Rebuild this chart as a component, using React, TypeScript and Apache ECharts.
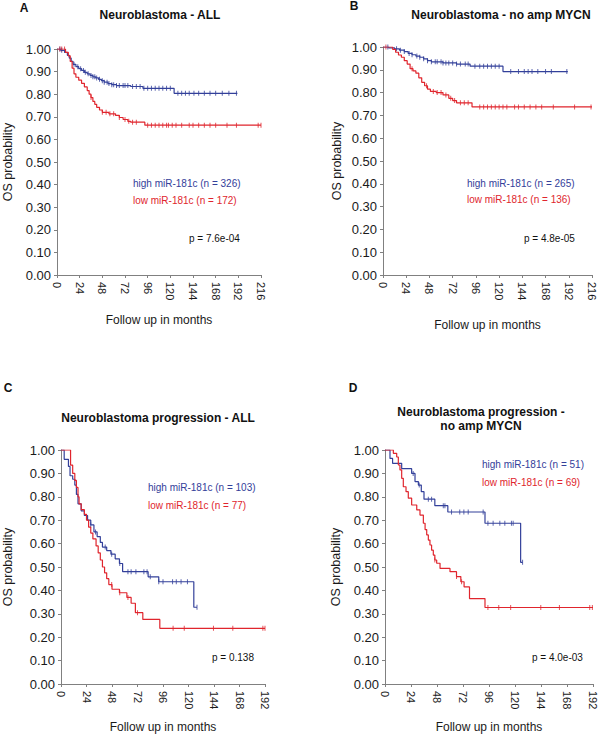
import React, { useEffect, useRef } from "react";
import * as echarts from "echarts";

// ---------- data ----------
const xTicksAB = [0, 24, 48, 72, 96, 120, 144, 168, 192, 216];
const xTicksCD = [0, 24, 48, 72, 96, 120, 144, 168, 192];

const panelTitles = ["Neuroblastoma - ALL", "Neuroblastoma - no amp MYCN", "Neuroblastoma progression - ALL", "Neuroblastoma progression -\nno amp MYCN"];
const panelLetters = ["A", "B", "C", "D"];
const highLabels = ["high miR-181c (n = 326)", "high miR-181c (n = 265)", "high miR-181c (n = 103)", "high miR-181c (n = 51)"];
const lowLabels = ["low miR-181c (n = 172)", "low miR-181c (n = 136)", "low miR-181c (n = 77)", "low miR-181c (n = 69)"];
const pValues = ["p = 7.6e-04", "p = 4.8e-05", "p = 0.138", "p = 4.0e-03"];

// Panel A
const aHighT = [0, 4, 8, 11, 13, 15, 17, 20, 23, 26, 29, 32, 35, 38, 41, 44, 47, 50, 54, 58, 63, 78, 91, 124, 191];
const aHighS = [1, 0.994, 0.985, 0.972, 0.96, 0.945, 0.932, 0.922, 0.913, 0.905, 0.897, 0.89, 0.883, 0.877, 0.872, 0.866, 0.86, 0.853, 0.847, 0.842, 0.838, 0.834, 0.826, 0.804, 0.804];
const aHighC = [3, 5, 18, 22, 25, 28, 30, 33, 36, 38, 40, 42, 45, 48, 50, 53, 55, 58, 60, 63, 66, 70, 72, 75, 80, 84, 88, 92, 96, 100, 104, 108, 112, 116, 120, 128, 132, 136, 140, 145, 150, 156, 162, 168, 175, 182, 190];
const aLowT = [0, 9, 12, 14, 16, 18, 20, 23, 26, 29, 32, 34, 36, 38, 40, 42, 45, 48, 55, 62, 66, 70, 75, 78, 93, 216];
const aLowS = [1, 0.985, 0.97, 0.945, 0.915, 0.89, 0.875, 0.862, 0.848, 0.832, 0.816, 0.8, 0.785, 0.768, 0.755, 0.742, 0.73, 0.72, 0.713, 0.706, 0.697, 0.688, 0.68, 0.676, 0.663, 0.663];
const aLowC = [3, 5, 8, 36, 48, 52, 56, 60, 66, 72, 76, 80, 84, 96, 100, 104, 108, 112, 116, 118, 122, 126, 132, 140, 144, 150, 156, 162, 168, 180, 190, 213, 216];

// Panel B
const bHighT = [0, 6, 12, 17, 22, 26, 30, 34, 38, 42, 46, 50, 62, 76, 90, 124, 191];
const bHighS = [1, 0.996, 0.992, 0.986, 0.98, 0.972, 0.966, 0.96, 0.955, 0.948, 0.94, 0.935, 0.93, 0.925, 0.916, 0.892, 0.892];
const bHighC = [5, 14, 18, 22, 27, 30, 35, 38, 42, 46, 50, 54, 56, 60, 62, 65, 68, 72, 76, 80, 85, 88, 95, 100, 104, 108, 112, 116, 120, 132, 140, 146, 150, 154, 160, 168, 174, 190];
const bLowT = [0, 10, 13, 16, 19, 22, 25, 28, 31, 34, 37, 40, 43, 46, 49, 55, 62, 68, 72, 76, 92, 216];
const bLowS = [1, 0.99, 0.977, 0.965, 0.955, 0.94, 0.925, 0.905, 0.895, 0.885, 0.865, 0.845, 0.83, 0.815, 0.805, 0.8, 0.79, 0.775, 0.765, 0.755, 0.737, 0.737];
const bLowC = [3, 30, 45, 52, 56, 60, 65, 70, 74, 80, 84, 88, 100, 104, 108, 112, 116, 120, 124, 128, 136, 140, 146, 152, 158, 164, 176, 198, 215];

// Panel C
const cHighT = [0, 3, 7, 8.5, 11, 13, 14.5, 16, 19, 22, 25, 28, 31, 34, 37, 39, 43, 47, 51, 55, 58, 82, 92, 125, 128];
const cHighS = [1, 0.96, 0.93, 0.89, 0.875, 0.85, 0.81, 0.77, 0.74, 0.72, 0.7, 0.68, 0.65, 0.63, 0.605, 0.585, 0.57, 0.555, 0.535, 0.515, 0.48, 0.458, 0.437, 0.328, 0.328];
const cHighC = [28, 32.5, 41.6, 47.7, 55.3, 63, 66, 70.5, 78, 81, 84, 92, 96, 105, 108.5, 113, 119, 128];
const cLowT = [0, 9, 11, 13, 14.5, 16, 17, 19, 22, 24, 26, 28, 30, 33, 35, 37, 39, 41, 43, 45, 48, 55, 62, 66, 70, 77, 93, 192];
const cLowS = [1, 0.935, 0.9, 0.87, 0.84, 0.8, 0.77, 0.745, 0.725, 0.7, 0.67, 0.645, 0.62, 0.59, 0.56, 0.53, 0.5, 0.475, 0.45, 0.425, 0.405, 0.39, 0.37, 0.345, 0.305, 0.276, 0.238, 0.238];
const cLowC = [47.7, 55.3, 63, 72, 105.5, 116, 143.5, 161.7, 190, 192];

// Panel D
const dHighT = [0, 4.6, 7, 15.4, 24.6, 27.7, 30.8, 33.5, 36, 46, 58, 92.3, 125.2, 127];
const dHighS = [1, 0.964, 0.943, 0.92, 0.9, 0.865, 0.85, 0.822, 0.79, 0.762, 0.735, 0.687, 0.52, 0.52];
const dHighC = [26, 31.6, 40, 43, 53.8, 55.3, 61.4, 69, 72.8, 76.8, 90.6, 95, 99.8, 106, 110.6, 116.7, 118.3, 127];
const dLowT = [0, 7.7, 10.8, 12.3, 13.8, 15.4, 16.9, 19.4, 21.5, 24.6, 29.3, 32.3, 35.4, 37, 38.5, 40, 41.5, 43, 44.6, 46, 47.7, 50.8, 60, 66, 70, 73, 78, 92.3, 192];
const dLowS = [1, 0.986, 0.97, 0.936, 0.915, 0.879, 0.843, 0.822, 0.794, 0.765, 0.744, 0.722, 0.687, 0.66, 0.637, 0.615, 0.594, 0.572, 0.551, 0.53, 0.516, 0.494, 0.48, 0.459, 0.437, 0.415, 0.365, 0.327, 0.327];
const dLowC = [46, 66, 70.7, 95, 105, 116, 143.8, 161, 189, 191.4];

// ---------- layout / style ----------
const BLUE = "#33409a";
const RED = "#e0252d";
const AXIS = "#808080";
const FONT = "'Liberation Sans', Arial, Helvetica, sans-serif";

const grids = [
  { left: 53, top: 49, width: 208, height: 226 },
  { left: 383, top: 47, width: 209, height: 228 },
  { left: 54, top: 450, width: 211, height: 234 },
  { left: 385, top: 450, width: 208, height: 234 },
];
const xMax = [216, 216, 192, 192];
const xNameGap = [37, 42, 35, 35];
const yNameGap = [41, 38, 45, 41];

const panels = [
  { hT: aHighT, hS: aHighS, hC: aHighC, lT: aLowT, lS: aLowS, lC: aLowC },
  { hT: bHighT, hS: bHighS, hC: bHighC, lT: bLowT, lS: bLowS, lC: bLowC },
  { hT: cHighT, hS: cHighS, hC: cHighC, lT: cLowT, lS: cLowS, lC: cLowC },
  { hT: dHighT, hS: dHighS, hC: dHighC, lT: dLowT, lS: dLowS, lC: dLowC },
];

const letterPos = [[24, 8], [354, 6], [8, 388], [353, 388]];
const titlePos = [[160, 15], [501, 15], [158, 418], [481, 405]];
const legendPos = [[133, 183, 200], [467, 183, 199], [148, 487, 505], [482, 464, 482]];
const pPos = [[189, 238], [524, 238], [212, 657], [532, 657]];

function survivalAt(ts: number[], ss: number[], t: number) {
  let v = ss[0];
  for (let i = 0; i < ts.length; i++) if (ts[i] <= t) v = ss[i];
  return v;
}

function buildOption() {
  const xAxis: any[] = [];
  const yAxis: any[] = [];
  const series: any[] = [];
  const graphic: any[] = [];

  grids.forEach((g, i) => {
    xAxis.push({
      gridIndex: i,
      type: "value",
      min: 0,
      max: xMax[i],
      interval: 24,
      offset: 2,
      name: "Follow up in months",
      nameLocation: "middle",
      nameGap: xNameGap[i],
      nameTextStyle: { fontFamily: FONT, fontSize: 12, color: "#1a1a1a" },
      axisLine: { show: true, lineStyle: { color: AXIS, width: 1 } },
      axisTick: { show: true, length: 3, lineStyle: { color: AXIS } },
      axisLabel: { rotate: -90, fontFamily: FONT, fontSize: 11, color: "#1a1a1a", margin: 5 },
      splitLine: { show: false },
    });
    yAxis.push({
      gridIndex: i,
      type: "value",
      min: 0,
      max: 1,
      interval: 0.1,
      offset: 2,
      name: "OS probability",
      nameLocation: "middle",
      nameGap: yNameGap[i],
      nameTextStyle: { fontFamily: FONT, fontSize: 12.5, color: "#1a1a1a" },
      axisLine: { show: true, lineStyle: { color: AXIS, width: 1 } },
      axisTick: { show: true, length: 3, lineStyle: { color: AXIS } },
      axisLabel: { fontFamily: FONT, fontSize: 13, color: "#1a1a1a", margin: 4, formatter: (v: number) => v.toFixed(2) },
      splitLine: { show: false },
    });

    const p = panels[i];
    const curves = [
      { t: p.hT, s: p.hS, c: p.hC, color: BLUE, name: highLabels[i] },
      { t: p.lT, s: p.lS, c: p.lC, color: RED, name: lowLabels[i] },
    ];
    curves.forEach((cv) => {
      series.push({
        type: "line",
        name: cv.name,
        xAxisIndex: i,
        yAxisIndex: i,
        step: "end",
        showSymbol: false,
        silent: true,
        data: cv.t.map((t, k) => [t, cv.s[k]]),
        lineStyle: { color: cv.color, width: 1.2 },
        itemStyle: { color: cv.color },
      });
      series.push({
        type: "scatter",
        name: cv.name + " censored",
        xAxisIndex: i,
        yAxisIndex: i,
        symbol: "rect",
        symbolSize: [1, 5],
        silent: true,
        data: cv.c.map((t) => [t, survivalAt(cv.t, cv.s, t)]),
        itemStyle: { color: cv.color },
      });
    });

    graphic.push({
      type: "text",
      x: letterPos[i][0],
      y: letterPos[i][1],
      style: { text: panelLetters[i], font: `bold 12px ${FONT}`, fill: "#111", align: "center", verticalAlign: "middle" },
    });
    graphic.push({
      type: "text",
      x: titlePos[i][0],
      y: titlePos[i][1],
      style: { text: panelTitles[i], font: `bold 12px ${FONT}`, fill: "#111", align: "center", verticalAlign: i === 3 ? "top" : "middle", lineHeight: 14 },
    });
    graphic.push({
      type: "text",
      x: legendPos[i][0],
      y: legendPos[i][1],
      style: { text: highLabels[i], font: `10px ${FONT}`, fill: BLUE, verticalAlign: "middle" },
    });
    graphic.push({
      type: "text",
      x: legendPos[i][0],
      y: legendPos[i][2],
      style: { text: lowLabels[i], font: `10px ${FONT}`, fill: RED, verticalAlign: "middle" },
    });
    graphic.push({
      type: "text",
      x: pPos[i][0],
      y: pPos[i][1],
      style: { text: pValues[i], font: `10px ${FONT}`, fill: "#111", verticalAlign: "middle" },
    });
  });

  return {
    animation: false,
    backgroundColor: "#ffffff",
    grid: grids.map((g) => ({ ...g, containLabel: false })),
    xAxis,
    yAxis,
    series,
    graphic,
  };
}

export default function App() {
  const ref = useRef<HTMLDivElement>(null);
  useEffect(() => {
    if (!ref.current) return;
    const chart = echarts.init(ref.current, undefined, { renderer: "svg" });
    chart.setOption(buildOption() as any);
    return () => chart.dispose();
  }, []);
  return <div ref={ref} style={{ position: "absolute", left: 0, top: 0, width: 600, height: 736, background: "#fff" }} />;
}
